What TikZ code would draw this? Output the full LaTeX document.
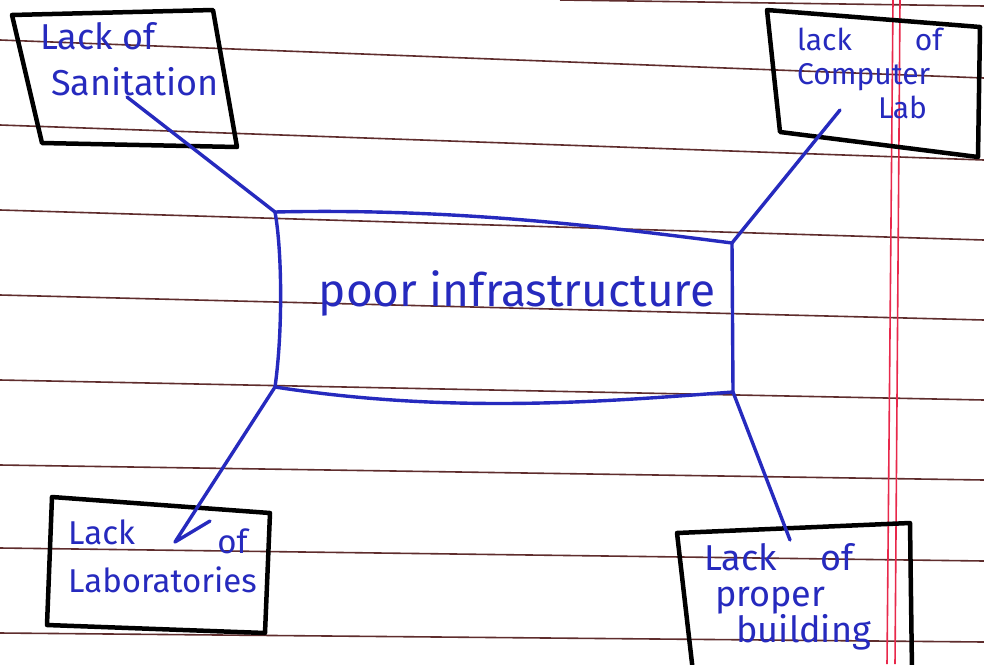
\documentclass[tikz,border=0pt]{standalone}
\usepackage{fontspec}
\setmainfont{Fira Sans}
\usepackage{tikz}
\usetikzlibrary{positioning,calc}
\usepackage{xcolor}
\definecolor{ink}{RGB}{38,42,190}
\definecolor{rule}{RGB}{95,45,45}
\definecolor{margin}{RGB}{232,40,75}

\tikzset{
  ruled/.style={rule, line width=1.6pt},
  marginline/.style={margin, line width=1.6pt},
  boxline/.style={black, line width=4.5pt, line join=round, line cap=round},
  hubline/.style={ink, line width=3.4pt, line join=round, line cap=round},
  linkline/.style={ink, line width=3.4pt, line cap=round, line join=round},
  labeltext/.style={ink, align=left, inner sep=0pt, font=\fontsize{36}{46}\selectfont},
  hubtext/.style={ink, inner sep=0pt, font=\fontsize{46}{50}\selectfont}
}

\begin{document}
\begin{tikzpicture}[x=1pt, y=-1pt]
  \useasboundingbox (0,0) rectangle (984,664);
  \fill[white] (0,0) rectangle (984,664);

  % ruled paper
  \foreach \l/\r in {40/78, 125/160, 210/240, 295/320, 380/400, 465/480, 548/561, 633/642} {
    \draw[ruled] (0,\l) -- (984,\r);
  }
  \draw[ruled] (560,0) -- (984,6);
  \draw[marginline] (893,0) -- (887,664);
  \draw[marginline] (900,0) -- (895,664);

  % central box
  \coordinate (hubNW) at (275,212);
  \coordinate (hubNE) at (732,243);
  \coordinate (hubSE) at (733,392);
  \coordinate (hubSW) at (275,387);
  \draw[hubline] (hubNW) .. controls (450,208) and (600,226) .. (hubNE)
    -- (hubSE) .. controls (600,402) and (450,414) .. (hubSW)
    .. controls (283,330) and (282,250) .. (hubNW);
  \node[hubtext] (poor) at (517,293) {poor infrastructure};

  % corner boxes
  \draw[boxline] (12,15) -- (213,10) -- (237,147) -- (42,143) -- cycle;
  \node[labeltext, anchor=north west] (sanit) at (40,22) {Lack of\\\hspace*{0.3em}Sanitation};

  \draw[boxline] (767,10) -- (980,27) -- (978,157) -- (780,132) -- cycle;
  \node[labeltext, anchor=north west, font=\fontsize{30}{34}\selectfont] (complab) at (797,28)
    {lack\hspace{2.1em}of\\Computer\\\hspace*{2.7em}Lab};

  \draw[boxline] (52,497) -- (270,513) -- (265,633) -- (47,625) -- cycle;
  \node[labeltext, anchor=north west, font=\fontsize{33}{48}\selectfont] (labs) at (68,520)
    {Lack\hspace{2.5em}\raisebox{-9pt}{of}\\Laboratories};

  \draw[boxline] (677,533) -- (910,523) -- (912,672) -- (693,672) -- cycle;
  \node[labeltext, anchor=north west, font=\fontsize{36}{36}\selectfont] (build) at (704,543)
    {Lack\hspace{1.2em}of\\\hspace*{0.3em}proper\\\hspace*{0.9em}building};

  % connectors
  \coordinate (sanEnd) at (127,97);
  \coordinate (labEnd) at (175,542);
  \coordinate (labTick) at (210,521);
  \coordinate (compEnd) at (840,110);
  \coordinate (bldEnd) at (790,540);
  \draw[linkline] (hubNW) -- (sanEnd);
  \draw[linkline] (hubNE) -- (compEnd);
  \draw[linkline] (hubSW) -- (labEnd) -- (labTick);
  \draw[linkline] (hubSE) -- (bldEnd);
\end{tikzpicture}
\end{document}
